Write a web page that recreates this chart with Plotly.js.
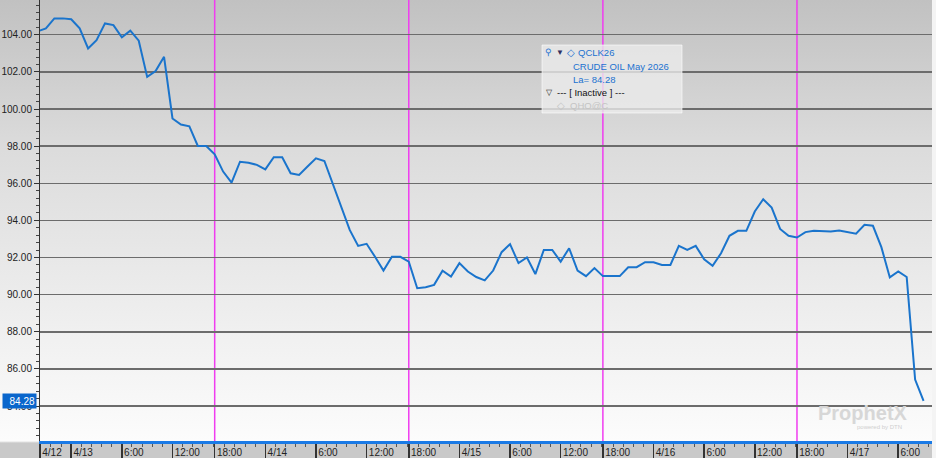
<!DOCTYPE html>
<html>
<head>
<meta charset="utf-8">
<script src="https://cdn.plot.ly/plotly-3.0.1.min.js"></script>
<style>
  html, body { margin: 0; padding: 0; background: #ffffff; }
  #chart {
    width: 936px; height: 458px; position: relative;
    background:
      linear-gradient(to right, rgba(0,0,0,0) 0px, rgba(0,0,0,0) 932px, #f4f4f4 932px),
      linear-gradient(to bottom, #c1c1c1 0px, #dcdcdc 150px, #fcfcfc 441px, #c9c9c9 443px, #c9c9c9 458px);
  }
</style>
</head>
<body>
<div id="chart"></div>
<script>
// ---- Data: hourly closes, CRUDE OIL May 2026 (QCLK26); 17:00 hour is the daily break ----
const hours_0412 = [20, 21, 22, 23];
const close_0412 = [104.18, 104.34, 104.88, 104.88];

const hours_full = [0,1,2,3,4,5,6,7,8,9,10,11,12,13,14,15,16,18,19,20,21,22,23];
const close_0413 = [104.83, 104.34, 103.26, 103.71, 104.61, 104.52, 103.86, 104.22, 103.68, 101.73, 102.04, 102.81,
                    99.49, 99.16, 99.07, 98.01, 98.01, 97.56, 96.63, 96.04, 97.16, 97.11, 96.99];
const close_0414 = [96.75, 97.40, 97.40, 96.54, 96.45, 96.90, 97.34, 97.20, 96.00, 94.75, 93.49, 92.63,
                    92.74, 92.04, 91.30, 92.04, 92.04, 91.78, 90.35, 90.40, 90.53, 91.29, 90.98];
const close_0415 = [91.70, 91.25, 90.95, 90.77, 91.30, 92.29, 92.72, 91.70, 92.00, 91.11, 92.41, 92.41,
                    91.78, 92.50, 91.30, 91.00, 91.43, 91.00, 91.00, 91.00, 91.48, 91.48, 91.75];
const close_0416 = [91.75, 91.60, 91.60, 92.63, 92.41, 92.63, 91.91, 91.56, 92.23, 93.17, 93.44, 93.44,
                    94.48, 95.14, 94.69, 93.54, 93.17, 93.08, 93.37, 93.44, 93.40, 93.40, 93.46];
const hours_0417 = [0,1,2,3,4,5,6,7,8,9];
const close_0417 = [93.35, 93.28, 93.76, 93.71, 92.56, 90.93, 91.25, 90.95, 85.43, 84.28];

const sessions = [
  {date: '2026-04-12', hours: hours_0412, close: close_0412},
  {date: '2026-04-13', hours: hours_full, close: close_0413},
  {date: '2026-04-14', hours: hours_full, close: close_0414},
  {date: '2026-04-15', hours: hours_full, close: close_0415},
  {date: '2026-04-16', hours: hours_full, close: close_0416},
  {date: '2026-04-17', hours: hours_0417, close: close_0417}
];

const lastPrice = 84.28;
const symbol = 'QCLK26';
const description = 'CRUDE OIL May 2026';

// x-axis tick labels
const tickVals = ['2026-04-12 20:18', '2026-04-13 00:00', '2026-04-13 06:00', '2026-04-13 12:00', '2026-04-13 18:00',
                  '2026-04-14 00:00', '2026-04-14 06:00', '2026-04-14 12:00', '2026-04-14 18:00',
                  '2026-04-15 00:00', '2026-04-15 06:00', '2026-04-15 12:00', '2026-04-15 18:00',
                  '2026-04-16 00:00', '2026-04-16 06:00', '2026-04-16 12:00', '2026-04-16 18:00',
                  '2026-04-17 00:00', '2026-04-17 06:00'];
const tickText = ['4/12', '4/13', '6:00', '12:00', '18:00', '4/14', '6:00', '12:00', '18:00',
                  '4/15', '6:00', '12:00', '18:00', '4/16', '6:00', '12:00', '18:00', '4/17', '6:00'];
// session boundaries (magenta)
const sessionStarts = ['2026-04-13 18:00', '2026-04-14 18:00', '2026-04-15 18:00', '2026-04-16 18:00'];

// ---- build series ----
const pad = n => (n < 10 ? '0' : '') + n;
const xs = [], ys = [];
sessions.forEach(s => s.hours.forEach((h, i) => { xs.push(s.date + ' ' + pad(h) + ':00'); ys.push(s.close[i]); }));

// ---- layout helpers (pixel -> paper) ----
const W = 936, H = 458, ML = 40, MR = 4, MT = 0, MB = 17;
const PW = W - ML - MR, PH = H - MT - MB;
const px = x => (x - ML) / PW;
const py = y => (PH + MT - y) / PH;

const FONT = 'Liberation Sans, Arial, sans-serif';
const BLUE = '#1c72d0';

const shapes = sessionStarts.map(t => ({
  type: 'line', xref: 'x', yref: 'paper', x0: t, x1: t, y0: 0, y1: 1,
  line: {color: '#f03cf0', width: 1.5}, layer: 'between'
}));
// legend panel
shapes.push({type: 'rect', xref: 'paper', yref: 'paper', x0: px(542), x1: px(682), y0: py(113), y1: py(45),
  fillcolor: 'rgba(236,236,236,0.78)', line: {color: 'rgba(255,255,255,0.6)', width: 1}, layer: 'above'});

const ann = (x, y, text, color, size, extra) => Object.assign({
  xref: 'paper', yref: 'paper', x: px(x), y: py(y), text: text, showarrow: false,
  xanchor: 'left', yanchor: 'middle', font: {family: FONT, size: size || 10, color: color}
}, extra || {});

const annotations = [
  ann(543, 52, '⚲', BLUE, 9),
  ann(554, 53, '▼', '#303060', 8),
  ann(565, 53, '◇', BLUE, 10),
  ann(576, 53, symbol, BLUE, 9.5),
  ann(571, 66, description, BLUE, 9.5),
  ann(571, 79.5, 'La= ' + lastPrice.toFixed(2), BLUE, 9.5),
  ann(544, 92.5, '▽', '#222222', 8),
  ann(555, 92.5, '--- [ Inactive ] ---', '#111111', 9.5),
  ann(555, 105.7, '◇', '#c4c4c4', 10),
  ann(568, 105.7, 'QHO@C', '#c4c4c4', 9.5),
  // last price tag
  {xref: 'paper', yref: 'y', x: px(37), y: lastPrice, text: lastPrice.toFixed(2), showarrow: false,
   xanchor: 'right', yanchor: 'middle', align: 'right', width: 31, height: 12, bgcolor: '#0a66cc',
   borderpad: 1, font: {family: FONT, size: 10, color: '#ffffff'}},
  // watermark
  ann(816, 413, '<b>ProphetX</b>', '#d7d7d7', 20),
  ann(855, 427, 'powered by DTN', '#cfcfcf', 6)
];

const trace = {
  type: 'scatter', mode: 'lines', x: xs, y: ys,
  line: {color: '#1a74cc', width: 2}, hoverinfo: 'x+y', showlegend: false
};

const layout = {
  width: W, height: H,
  margin: {l: ML, r: MR, t: MT, b: MB, pad: 0},
  paper_bgcolor: 'rgba(0,0,0,0)', plot_bgcolor: 'rgba(0,0,0,0)',
  showlegend: false,
  font: {family: FONT, size: 10, color: '#222222'},
  xaxis: {
    type: 'date',
    range: ['2026-04-12 20:18', '2026-04-17 10:00'],
    rangebreaks: [{pattern: 'hour', bounds: [17, 18]}],
    tickmode: 'array', tickvals: tickVals, ticktext: tickText,
    ticks: 'outside', ticklen: 15, tickwidth: 1.5, tickcolor: '#333333',
    ticklabelposition: 'outside right',
    tickfont: {family: FONT, size: 10, color: '#222222'},
    showline: true, linecolor: '#1a7ae6', linewidth: 3,
    showgrid: false, zeroline: false, fixedrange: true,
    minor: {dtick: 4320000, ticks: 'outside', ticklen: 3, tickwidth: 1, tickcolor: '#555555', showgrid: false}
  },
  yaxis: {
    range: [82.12, 105.87],
    tickmode: 'linear', tick0: 0, dtick: 2, tickformat: '.2f',
    ticks: 'outside', ticklen: 5, tickwidth: 1, tickcolor: '#333333',
    tickfont: {family: FONT, size: 10, color: '#222222'},
    showline: true, linecolor: '#333333', linewidth: 1,
    showgrid: true, gridcolor: '#6c6c6c', gridwidth: 1.5,
    zeroline: false, fixedrange: true,
    minor: {dtick: 0.4, tick0: 0, ticks: 'outside', ticklen: 3, tickcolor: '#444444', showgrid: false}
  },
  shapes: shapes,
  annotations: annotations
};

Plotly.newPlot('chart', [trace], layout, {displayModeBar: false, staticPlot: true});
</script>
</body>
</html>
